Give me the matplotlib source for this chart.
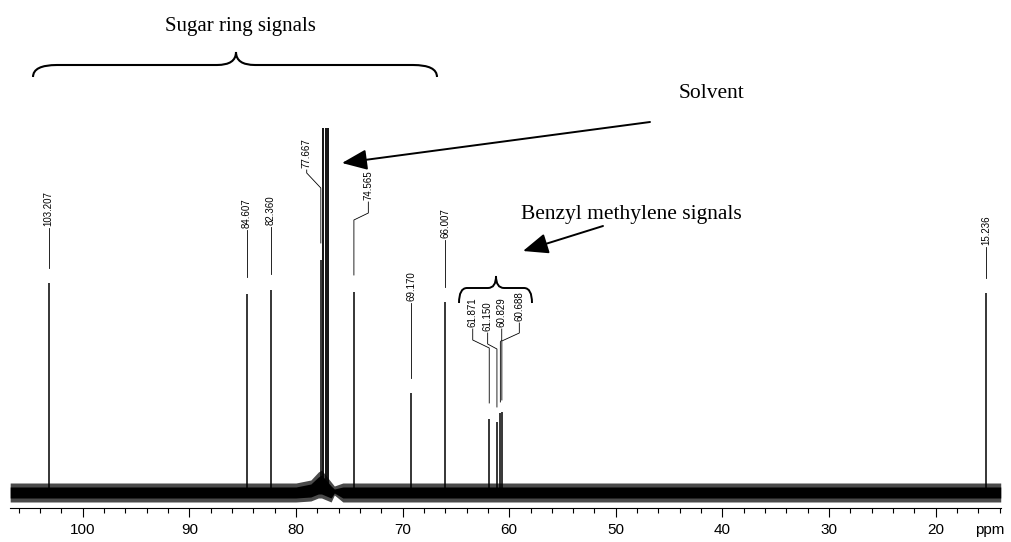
import matplotlib
matplotlib.use("Agg")
import matplotlib.pyplot as plt
from matplotlib.path import Path
from matplotlib.patches import PathPatch, FancyArrowPatch

# 13C NMR peaks (ppm) and their heights (arbitrary units above baseline)
peak_ppm = [103.207, 84.607, 82.360, 77.667, 74.565, 69.170, 66.007,
            61.871, 61.150, 60.829, 60.688, 15.236]
peak_height = [209, 198, 202, 232, 200, 99, 190, 73, 70, 79, 80, 199]
peak_labels = ["103.207", "84.607", "82.360", "77.667", "74.565", "69.170",
               "66.007", "61.871", "61.150", "60.829", "60.688", "15.236"]

# CDCl3 solvent triplet (clipped at the top)
solvent_ppm = [77.50, 77.22, 76.95]
solvent_height = [364, 364, 364]

# noise envelope of the baseline (outer spikes and dense core)
env_ppm = [106.8, 80.0, 78.6, 77.9, 77.6, 76.7, 76.4, 75.6, 13.9]
env_top = [9, 9, 12, 20, 22, 10, 6, 9, 9]
env_bot = [-10, -10, -9, -6, -6, -10, -3, -10, -10]
core_top = [5, 5, 8, 15, 17, 6, 3, 5, 5]
core_bot = [-6, -6, -5, -2, -2, -6, -1, -6, -6]

# label leader layout: text x (ppm), text base, knee1, knee2, leader end
label_x = [103.207, 84.607, 82.360, 78.99, 73.21, 69.170, 66.007,
           63.42, 62.02, 60.70, 59.05, 15.236]
label_base = [264, 262, 265, 322, 290, 189, 252, 163, 159, 163, 169, 245]
knee1 = [264, 262, 265, 319, 279, 189, 252, 152, 148, 152, 159, 245]
knee2 = [264, 262, 265, 304, 272, 189, 252, 144, 143, 150, 151, 245]
lead_end = [224, 215, 218, 249, 217, 114, 205, 89, 85, 90, 92, 214]

major_ticks = [100, 90, 80, 70, 60, 50, 40, 30, 20]
minor_ticks = [t for t in range(106, 13, -2) if t % 10 != 0]

narrow = ["Liberation Sans Narrow", "Liberation Sans", "DejaVu Sans"]
serif = ["Liberation Serif", "DejaVu Serif"]

fig = plt.figure(figsize=(10.11, 5.42), dpi=100)
ax = fig.add_axes([0, 0, 1, 1])
ax.set_xlim(107.756, 12.937)
ax.set_ylim(-50, 492)

# baseline noise band
ax.fill_between(env_ppm, env_bot, env_top, color="#4a4a4a", lw=0)
ax.fill_between(env_ppm, core_bot, core_top, color="black", lw=0)

# peaks
ax.vlines(peak_ppm, 0, peak_height, color="black", lw=1.1)
ax.vlines(solvent_ppm, 0, solvent_height, color="black", lw=1.3)

# peak labels with leaders
for i, lab in enumerate(peak_labels):
    xs = [label_x[i], label_x[i], peak_ppm[i], peak_ppm[i]]
    ys = [label_base[i], knee1[i], knee2[i], lead_end[i]]
    ax.plot(xs, ys, color="black", lw=0.6)
    ax.text(label_x[i], label_base[i] + 2, lab, rotation=90, ha="center",
            va="bottom", fontsize=7, family=narrow)

# axis
for s in ["top", "left", "right"]:
    ax.spines[s].set_visible(False)
ax.spines["bottom"].set_position(("data", -16))
ax.spines["bottom"].set_bounds(106.8, 13.9)
ax.spines["bottom"].set_linewidth(0.8)
ax.set_xticks(major_ticks)
ax.set_xticks(minor_ticks, minor=True)
ax.tick_params(axis="x", which="major", length=6.5, width=0.8, pad=4,
               labelsize=11)
ax.tick_params(axis="x", which="minor", length=3.6, width=0.8)
ax.tick_params(axis="y", left=False, labelleft=False)
for t in ax.get_xticklabels():
    t.set_family(narrow)
ax.patch.set_alpha(0)

# overlay in pixel coordinates for annotations
ov = fig.add_axes([0, 0, 1, 1], zorder=3)
ov.set_xlim(0, 1011)
ov.set_ylim(542, 0)
ov.axis("off")
ov.patch.set_alpha(0)


def brace(x0, x1, xm, y_end, y_mid, y_tip, r, r2, lw):
    verts = [(x0, y_end), (x0, y_mid), (x0 + r, y_mid),
             (xm - r2, y_mid), (xm, y_mid), (xm, y_tip),
             (xm, y_mid), (xm + r2, y_mid),
             (x1 - r, y_mid), (x1, y_mid), (x1, y_end)]
    codes = [Path.MOVETO, Path.CURVE3, Path.CURVE3,
             Path.LINETO, Path.CURVE3, Path.CURVE3,
             Path.CURVE3, Path.CURVE3,
             Path.LINETO, Path.CURVE3, Path.CURVE3]
    ov.add_patch(PathPatch(Path(verts, codes), fill=False, lw=lw,
                           color="black"))


brace(33, 437, 236, 77, 65, 52, 24, 19, 1.5)
brace(459, 532, 496, 303, 288, 276, 8, 8, 1.4)

ov.text(240, 26, "Sugar ring signals", ha="center", va="center",
        fontsize=15, family=serif)
ov.text(711, 93, "Solvent", ha="center", va="center",
        fontsize=15.5, family=serif)
ov.text(631, 214, "Benzyl methylene signals", ha="center", va="center",
        fontsize=15.5, family=serif)

for tail, tip in [((650, 122), (342, 163)), ((603, 226), (523, 251))]:
    ov.add_patch(FancyArrowPatch(tail, tip, arrowstyle="-|>,head_length=1.1,head_width=0.45",
                                 mutation_scale=14, lw=1.4, color="black",
                                 shrinkA=0, shrinkB=0))

ov.text(990, 530, "ppm", ha="center", va="center", fontsize=11, family=narrow)

fig.savefig("out.png", dpi=100)
